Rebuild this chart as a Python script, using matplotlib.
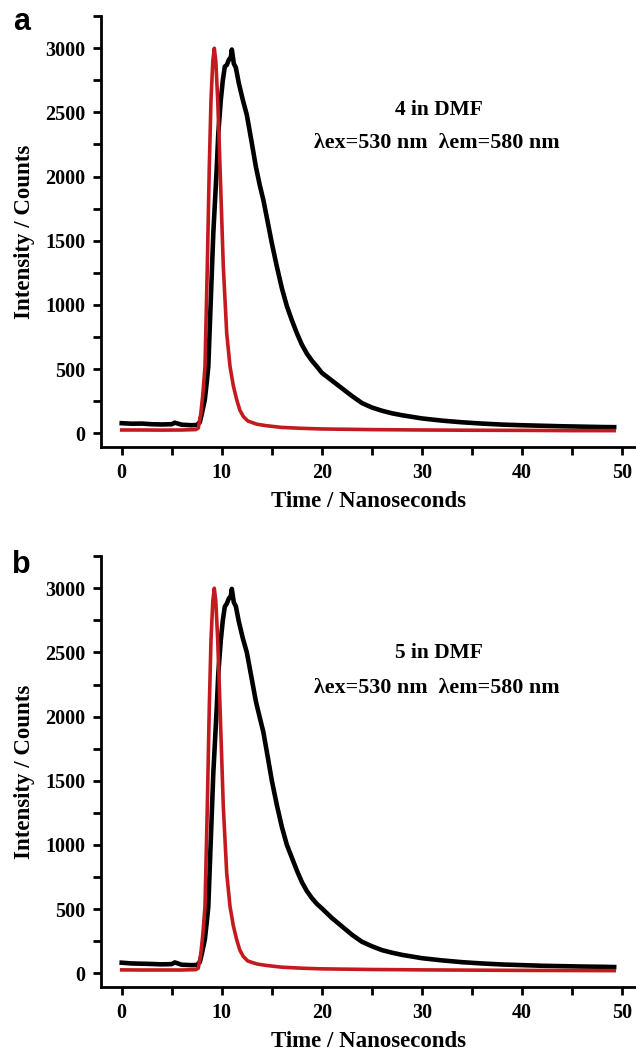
import matplotlib
matplotlib.use("Agg")
import matplotlib.pyplot as plt
from matplotlib.ticker import MultipleLocator

# time axis (ns) for the sample decay
t_decay = [0, 1, 2, 3, 4, 5, 5.3, 6, 7, 7.5, 7.8, 8.0, 8.3, 8.5, 8.65, 8.9, 9.15,
           9.5, 9.65, 9.9, 10.1, 10.3, 10.5, 10.7, 10.9, 11.0, 11.2, 11.4, 11.7,
           12.1, 12.5, 13.0, 13.4, 13.8, 14.15, 14.6, 15.0, 15.5, 16.0, 16.5, 17.0,
           17.5, 18.0, 18.5, 19.0, 19.5, 20.0, 21.0, 22.0, 23.0, 24.0, 25.0, 26.0,
           27.0, 28.0, 30.0, 32.0, 34.0, 36.0, 38.0, 40.0, 42.0, 44.0, 46.0, 48.0, 49.2]

decay_a = [78, 74, 75, 70, 68, 70, 82, 66, 62, 64, 85, 150, 260, 400, 520, 1039, 1558,
           2078, 2338, 2597, 2750, 2857, 2870, 2910, 2930, 2990, 2880, 2850, 2727,
           2597, 2480, 2260, 2078, 1930, 1818, 1640, 1480, 1298, 1130, 990, 880,
           779, 690, 620, 565, 519, 470, 410, 350, 290, 235, 200, 175,
           155, 140, 115, 98, 85, 75, 67, 62, 58, 54, 51, 48, 47]

decay_b = [82, 76, 74, 72, 69, 71, 84, 66, 63, 64, 86, 150, 260, 400, 520, 1039, 1558,
           2078, 2338, 2597, 2750, 2857, 2880, 2920, 2940, 2995, 2890, 2860, 2740,
           2610, 2500, 2290, 2120, 1990, 1880, 1680, 1500, 1310, 1140, 1000, 900,
           800, 710, 640, 585, 540, 505, 430, 365, 300, 245, 210, 180,
           160, 143, 117, 100, 86, 76, 68, 63, 58, 55, 52, 50, 48]

# instrument response (red)
t_irf = [0, 2, 4, 6, 7.4, 7.65, 7.9, 8.1, 8.32, 8.55, 8.75, 8.92, 9.1, 9.25, 9.4,
         9.59, 9.82, 10.15, 10.49, 10.82, 11.15, 11.49, 11.8, 12.15, 12.6, 13.5,
         14.5, 16.0, 18.0, 20.0, 25.0, 30.0, 35.0, 40.0, 45.0, 49.2]
irf_a = [25, 25, 24, 25, 28, 40, 150, 300, 520, 1298, 2078, 2597, 2900, 3000, 2900,
         2597, 2078, 1298, 779, 520, 370, 260, 180, 130, 95, 70,
         58, 45, 38, 33, 28, 25, 23, 22, 20, 20]
irf_b = [26, 25, 25, 25, 28, 40, 150, 300, 520, 1298, 2078, 2597, 2900, 3000, 2900,
         2597, 2078, 1298, 779, 520, 370, 260, 180, 130, 95, 72,
         60, 47, 39, 34, 29, 26, 24, 22, 21, 20]

panels = [("a", decay_a, irf_a, "4 in DMF", 0.5746, 2480, 2221),
          ("b", decay_b, irf_b, "5 in DMF", 0.0603, 2455, 2182)]

serif = "Liberation Serif"
red = "#c41a1f"

fig = plt.figure(figsize=(6.36, 10.5), dpi=100)

for letter, decay, irf, name, bottom, y1, y2 in panels:
    ax = fig.add_axes([0.1588, bottom, 0.8412, 0.41])
    ax.plot(t_decay, decay, color="black", lw=3.3, solid_joinstyle="round")
    ax.plot(t_irf, irf, color=red, lw=2.6, solid_joinstyle="round")

    ax.set_xlim(-2.07, 51.38)
    ax.set_ylim(-105, 3250)
    ax.xaxis.set_major_locator(MultipleLocator(10))
    ax.xaxis.set_minor_locator(MultipleLocator(5))
    ax.yaxis.set_major_locator(MultipleLocator(500))
    ax.yaxis.set_minor_locator(MultipleLocator(250))

    for s in ["top", "right"]:
        ax.spines[s].set_visible(False)
    for s in ["left", "bottom"]:
        ax.spines[s].set_linewidth(2.0)
    ax.tick_params(which="both", direction="out", width=2.0, length=5.5, pad=6)
    for lab in ax.get_xticklabels() + ax.get_yticklabels():
        lab.set_fontfamily(serif)
        lab.set_fontweight("bold")
        lab.set_fontsize(14.5)

    ax.set_xlabel("Time / Nanoseconds", family=serif, weight="bold", fontsize=16.5, labelpad=6)
    ax.set_ylabel("Intensity / Counts", family=serif, weight="bold", fontsize=16.5, labelpad=7)

    ax.text(31.7, y1, name, family=serif, weight="bold", fontsize=15.5,
            ha="center", va="baseline")
    ax.text(31.5, y2, "λex=530 nm  λem=580 nm", family=serif, weight="bold",
            fontsize=15.8, ha="center", va="baseline")

fig.text(0.034, 0.9714, "a", family="Liberation Sans", weight="bold", fontsize=22,
         ha="center", va="baseline")
fig.text(0.034, 0.454, "b", family="Liberation Sans", weight="bold", fontsize=22,
         ha="center", va="baseline")

fig.savefig("out.png", dpi=100)
